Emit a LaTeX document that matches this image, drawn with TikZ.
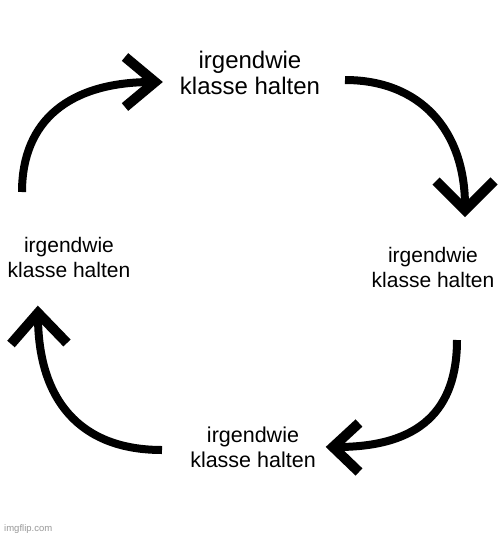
\documentclass[tikz,border=0pt]{standalone}
\usepackage{fontspec}
\setmainfont{Liberation Sans}
\begin{document}
\begin{tikzpicture}[x=1pt,y=-1pt,
  lbl/.style={inner sep=0pt, anchor=base, align=center},
  shaft/.style={line width=8pt, line cap=butt},
  chev/.style={line width=10pt, line join=miter, miter limit=10, line cap=butt}]
\useasboundingbox[fill=white] (0,0) rectangle (500,536);
% labels (anchor = baseline of the last line)
\node[lbl, font=\fontsize{24}{25.5}\selectfont] (top) at (250,94) {irgendwie\\klasse halten};
\node[lbl, font=\fontsize{21}{25}\selectfont] (left) at (69,277) {irgendwie\\klasse halten};
\node[lbl, font=\fontsize{21}{25}\selectfont] (right) at (433,287) {irgendwie\\klasse halten};
\node[lbl, font=\fontsize{21.5}{25}\selectfont] (bottom) at (253,467) {irgendwie\\klasse halten};
\node[inner sep=0pt, anchor=base west, text=black!40, font=\fontsize{9.5}{10}\selectfont] (wm) at (4,531) {imgflip.com};
% arrow 1: left -> top
\coordinate (a1s) at (22,192);
\coordinate (a1e) at (152,82);
\coordinate (a1t) at (155,82);
\draw[shaft] (a1s) .. controls (22,120) and (70,82) .. (a1e);
\draw[chev] (125,57) -- (a1t) -- (125,107);
% arrow 2: top -> right
\coordinate (a2s) at (345,80);
\coordinate (a2e) at (465,206);
\coordinate (a2t) at (465,210);
\draw[shaft] (a2s) .. controls (420,80) and (465,130) .. (a2e);
\draw[chev] (436,181) -- (a2t) -- (494,181);
% arrow 3: right -> bottom
\coordinate (a3s) at (457,340);
\coordinate (a3e) at (337,447);
\coordinate (a3t) at (333,447);
\draw[shaft] (a3s) .. controls (457,410) and (420,447) .. (a3e);
\draw[chev] (359,423) -- (a3t) -- (359,472);
% arrow 4: bottom -> left
\coordinate (a4s) at (162,450);
\coordinate (a4e) at (38,316);
\coordinate (a4t) at (38,313);
\draw[shaft] (a4s) .. controls (80,450) and (38,400) .. (a4e);
\draw[chev] (11,344) -- (a4t) -- (67,343);
\end{tikzpicture}
\end{document}
